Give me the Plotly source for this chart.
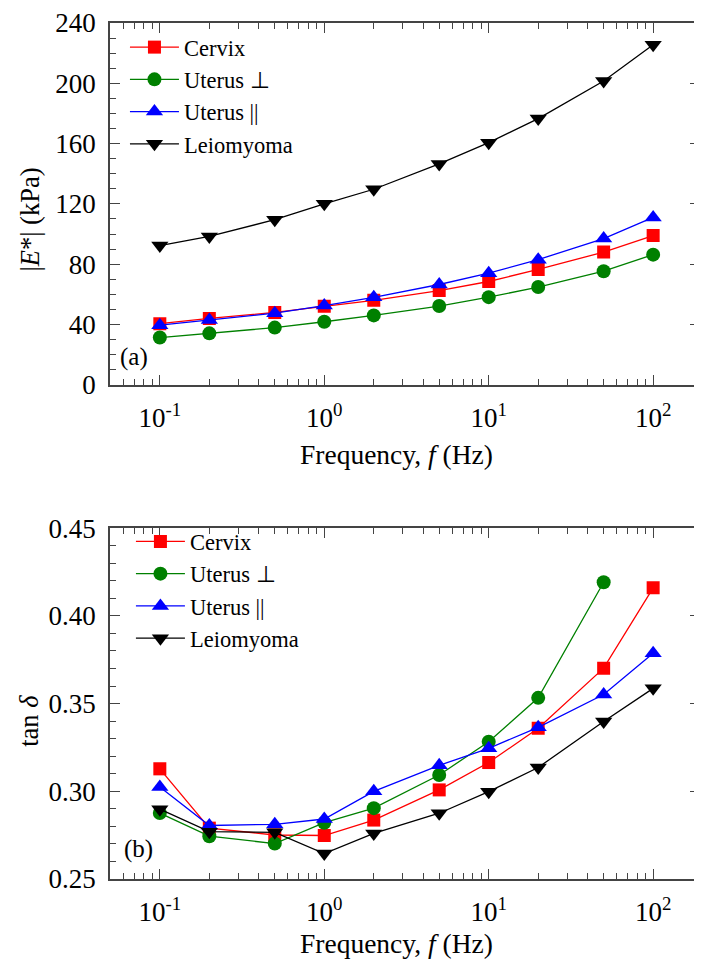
import plotly.graph_objects as go
from plotly.subplots import make_subplots

freq = [0.1, 0.2, 0.5, 1, 2, 5, 10, 20, 50, 100]
freq_perp_b = [0.1, 0.2, 0.5, 1, 2, 5, 10, 20, 50]

# Panel (a): |E*| (kPa)
e_cervix = [40.5, 44, 48, 52, 56, 62.5, 68.5, 76.5, 88, 99]
e_uterus_perp = [31.3, 34.1, 37.9, 41.8, 46, 52.2, 58.1, 64.8, 75.3, 86.3]
e_uterus_par = [39.5, 43, 47.5, 52.5, 58, 66.5, 74, 83, 97, 111]
e_leio = [92.3, 98.4, 109.5, 120, 129.7, 146.5, 160.6, 176.6, 201.5, 225.5]

# Panel (b): tan delta
t_cervix = [0.3128, 0.279, 0.2751, 0.2748, 0.2836, 0.3008, 0.3164, 0.3359, 0.3702, 0.416]
t_uterus_perp = [0.2876, 0.2744, 0.2702, 0.2821, 0.2904, 0.3093, 0.3283, 0.3533, 0.4192]
t_uterus_par = [0.3025, 0.2805, 0.2812, 0.2842, 0.3000, 0.3148, 0.3245, 0.3365, 0.3552, 0.3787]
t_leio = [0.2898, 0.2770, 0.2766, 0.2645, 0.2760, 0.2875, 0.2998, 0.3136, 0.3398, 0.3587]

names = ["Cervix", "Uterus \u22a5", "Uterus ||", "Leiomyoma"]
colors = ["#ff0000", "#008000", "#0000ff", "#000000"]
symbols = ["square", "circle", "triangle-up", "triangle-down"]
msizes = [13, 14, 15, 15]

FONT = "Liberation Serif"

fig = make_subplots(rows=2, cols=1, vertical_spacing=0.1)

top_sets = [(freq, e_cervix), (freq, e_uterus_perp), (freq, e_uterus_par), (freq, e_leio)]
bot_sets = [(freq, t_cervix), (freq_perp_b, t_uterus_perp), (freq, t_uterus_par), (freq, t_leio)]

for i, (xs, ys) in enumerate(top_sets):
    fig.add_trace(go.Scatter(x=xs, y=ys, mode="lines+markers", name=names[i],
                             line=dict(color=colors[i], width=1.3),
                             marker=dict(symbol=symbols[i], size=msizes[i], color=colors[i], line=dict(width=0)),
                             legend="legend"), row=1, col=1)
for i, (xs, ys) in enumerate(bot_sets):
    fig.add_trace(go.Scatter(x=xs, y=ys, mode="lines+markers", name=names[i],
                             line=dict(color=colors[i], width=1.3),
                             marker=dict(symbol=symbols[i], size=msizes[i], color=colors[i], line=dict(width=0)),
                             legend="legend2"), row=2, col=1)

# page body has an 8px default margin; layout below is in absolute window pixels
OFF = 8
W, H = 702 - OFF, 967 - 2 * OFF
L, R, T = 110 - OFF, 0, 20 - OFF
B = H - (879 - OFF)
PW, PH = W - L - R, H - T - B

def py(ypix):
    return (H - B - (ypix - OFF)) / PH

def px(xpix):
    return (xpix - OFF - L) / PW

minor_x = [m * 10 ** e for e in range(-2, 3) for m in range(2, 10)]
axis_col = "#444444"
xcommon = dict(type="log", range=[-1.303, -1.303 + PW / 165.0], tickvals=[0.1, 1, 10, 100],
               ticktext=["10<sup>-1</sup>", "10<sup>0</sup>", "10<sup>1</sup>", "10<sup>2</sup>"],
               ticks="inside", ticklen=10, tickwidth=1.3, tickcolor=axis_col,
               showline=True, linecolor=axis_col, linewidth=1.5, mirror="ticks",
               showgrid=False, zeroline=False, ticklabelstandoff=8, ticklabeloverflow="allow",
               tickfont=dict(family=FONT, size=27, color="#000"),
               minor=dict(tickmode="array", tickvals=minor_x, ticks="inside", ticklen=6,
                          tickwidth=1.2, tickcolor=axis_col, showgrid=False))
fig.update_xaxes(**xcommon, row=1, col=1)
fig.update_xaxes(**xcommon, row=2, col=1)

ycommon = dict(ticks="inside", ticklen=10, tickwidth=1.3, tickcolor=axis_col,
               showline=True, linecolor=axis_col, linewidth=1.5, mirror="ticks",
               showgrid=False, zeroline=False, ticklabelstandoff=7, ticklabeloverflow="allow",
               tickfont=dict(family=FONT, size=27, color="#000"))
fig.update_yaxes(**ycommon, range=[0, 240], dtick=40, tick0=0,
                 minor=dict(dtick=10, ticks="inside", ticklen=6, tickwidth=1.2, tickcolor=axis_col, showgrid=False),
                 row=1, col=1)
fig.update_yaxes(**ycommon, range=[0.25, 0.45], dtick=0.05, tick0=0.25, tickformat=".2f",
                 minor=dict(dtick=0.01, ticks="inside", ticklen=6, tickwidth=1.2, tickcolor=axis_col, showgrid=False),
                 row=2, col=1)

fig.update_layout(
    xaxis=dict(domain=[0, 1]), xaxis2=dict(domain=[0, 1]),
    yaxis=dict(domain=[py(383), py(20)]),
    yaxis2=dict(domain=[py(879), py(527)]),
)

legend_common = dict(font=dict(family=FONT, size=22.5, color="#000"), bgcolor="rgba(0,0,0,0)",
                     xanchor="left", yanchor="top", itemwidth=49, tracegroupgap=0)
fig.update_layout(
    legend=dict(**legend_common, x=px(125), y=py(23)),
    legend2=dict(**legend_common, x=px(131), y=py(519)),
)

def ann(text, x, y, size=25, angle=0):
    return dict(text=text, x=px(x), y=py(y), xref="paper", yref="paper", showarrow=False,
                xanchor="center", yanchor="middle", textangle=angle,
                font=dict(family=FONT, size=size, color="#000"))

annots = [
    ann("(a)", 134, 355),
    ann("(b)", 139, 849),
    ann("|<i>E</i>*| (kPa)", 30, 217, 26.5, -90),
    ann("tan <i>\u03b4</i>", 28, 720, 26.5, -90),
    ann("Frequency, <i>f</i> (Hz)", 397, 453, 27.5),
    ann("Frequency, <i>f</i> (Hz)", 397, 944, 27.5),
]
fig.update_layout(annotations=annots)

fig.update_layout(width=W, height=H, margin=dict(l=L, r=R, t=T, b=B),
                  paper_bgcolor="white", plot_bgcolor="white", showlegend=True)

fig.write_html("out.html")
